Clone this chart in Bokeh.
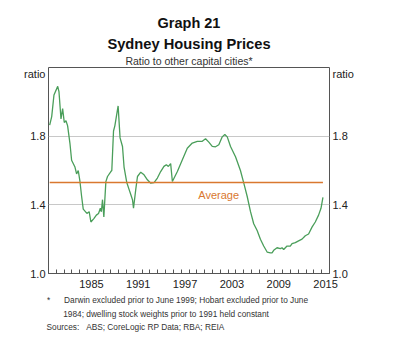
from bokeh.plotting import figure
from bokeh.models import FixedTicker, LinearAxis, Label, Range1d, Title
from bokeh.embed import file_html
from bokeh.resources import INLINE

# ---- data ----
years = [1980.15, 1980.41, 1980.70, 1981.18, 1981.34, 1981.60, 1981.81, 1982.02,
         1982.24, 1982.45, 1982.75, 1982.96, 1983.39, 1983.60, 1983.81, 1984.02,
         1984.24, 1984.45, 1984.92, 1985.21, 1985.43, 1985.81, 1986.13, 1986.41,
         1986.64, 1986.77, 1986.92, 1987.09, 1987.35, 1987.56, 1987.99, 1988.11,
         1988.33, 1988.50, 1988.92, 1989.17, 1989.48, 1989.68, 1990.03, 1990.32,
         1990.54, 1990.76, 1990.89, 1991.18, 1991.40, 1991.82, 1992.24, 1992.67,
         1993.10, 1993.52, 1993.95, 1994.37, 1994.79, 1995.10, 1995.36, 1995.65,
         1995.87, 1996.51, 1997.15, 1997.78, 1998.42, 1999.06, 1999.70, 2000.12,
         2000.54, 2000.98, 2001.40, 2001.82, 2002.26, 2002.59, 2002.90, 2003.32,
         2003.96, 2004.59, 2005.02, 2005.45, 2005.88, 2006.29, 2006.73, 2007.15,
         2007.57, 2008.01, 2008.43, 2008.64, 2008.85, 2009.28, 2009.70, 2009.92,
         2010.13, 2010.56, 2010.98, 2011.20, 2011.62, 2012.04, 2012.48, 2012.90,
         2013.32, 2013.76, 2014.18, 2014.60, 2014.91, 2015.16]
ratio = [1.864, 1.914, 2.04, 2.09, 2.06, 1.90, 1.96, 1.88,
         1.89, 1.86, 1.757, 1.66, 1.62, 1.58, 1.60, 1.54,
         1.45, 1.375, 1.35, 1.36, 1.30, 1.32, 1.34, 1.35,
         1.38, 1.36, 1.43, 1.33, 1.535, 1.565, 1.594, 1.60,
         1.83, 1.86, 1.976, 1.79, 1.74, 1.62, 1.53, 1.49,
         1.46, 1.43, 1.38, 1.49, 1.565, 1.59, 1.575, 1.546,
         1.526, 1.53, 1.556, 1.594, 1.624, 1.634, 1.624, 1.64,
         1.536, 1.594, 1.663, 1.73, 1.76, 1.77, 1.77, 1.785,
         1.765, 1.74, 1.738, 1.75, 1.796, 1.81, 1.796, 1.74,
         1.68, 1.60, 1.526, 1.45, 1.36, 1.29, 1.25, 1.20,
         1.16, 1.125, 1.12, 1.12, 1.135, 1.15, 1.145, 1.15,
         1.14, 1.16, 1.16, 1.174, 1.18, 1.19, 1.20, 1.22,
         1.23, 1.27, 1.30, 1.34, 1.38, 1.444]
average_value = 1.53
y_ticks = [1.0, 1.4, 1.8]
y_tick_labels = ["1.0", "1.4", "1.8"]
unit_label = "ratio"
x_label_years = [1985, 1991, 1997, 2003, 2009, 2015]

FONT = "Liberation Sans"
GREEN = "#4a9e5a"
ORANGE = "#d9782f"
FRAME = "#555555"
TXT = "#222222"
NB = "\u00a0"

p = figure(width=400, height=341, x_range=Range1d(1980, 2016), y_range=Range1d(1.0, 2.2),
           output_backend="svg", toolbar_location=None, title=None,
           min_border_left=48, min_border_right=71, min_border_top=67, min_border_bottom=68,
           x_axis_location=None, y_axis_location=None)
p.outline_line_color = FRAME
p.outline_line_width = 1
p.background_fill_color = "white"
p.border_fill_color = "white"

# grid
p.xgrid.visible = False
p.ygrid.ticker = FixedTicker(ticks=y_ticks)
p.ygrid.grid_line_color = "#c8c8c8"
p.ygrid.grid_line_width = 1

# bottom axis: year-boundary ticks, labels at mid-year
xt = FixedTicker(ticks=[y + 0.5 for y in x_label_years],
                 minor_ticks=list(range(1980, 2017)))
xaxis = LinearAxis(ticker=xt)
xaxis.major_label_overrides = {y + 0.5: str(y) for y in x_label_years}
xaxis.major_tick_in = 0
xaxis.major_tick_out = 0
xaxis.minor_tick_in = 4
xaxis.minor_tick_out = 0
xaxis.minor_tick_line_color = FRAME
xaxis.axis_line_color = FRAME
xaxis.major_label_standoff = 6
xaxis.major_label_text_font = FONT
xaxis.major_label_text_font_size = "11px"
xaxis.major_label_text_color = TXT
p.add_layout(xaxis, "below")

# unit label sits just under the top of the frame
unit_pos = 2.165
for side in ("left", "right"):
    ya = LinearAxis(ticker=FixedTicker(ticks=y_ticks + [unit_pos]))
    ov = dict(zip(y_ticks, y_tick_labels))
    ov[unit_pos] = unit_label
    ya.major_label_overrides = ov
    ya.major_tick_in = 0
    ya.major_tick_out = 0
    ya.minor_tick_line_color = None
    ya.axis_line_color = None
    ya.major_label_standoff = 3
    ya.major_label_text_font = FONT
    ya.major_label_text_font_size = "11px"
    ya.major_label_text_color = TXT
    p.add_layout(ya, side)

# series
p.line(years, ratio, line_color=GREEN, line_width=1.3)
p.line([years[0], years[-1]], [average_value, average_value], line_color=ORANGE, line_width=1.3)

p.add_layout(Label(x=2001.8, y=average_value, y_offset=-12.5, text="Average",
                   text_align="center", text_baseline="middle",
                   text_font=FONT, text_font_size="11px", text_color=ORANGE))

def title(text, where, size, bold=False, align="center", offset=0, standoff=0, color="#111111"):
    t = Title(text=text, align=align, offset=offset, standoff=standoff,
              text_font=FONT, text_font_size=size, text_color=color,
              text_font_style="bold" if bold else "normal")
    p.add_layout(t, where)

# titles (added from the frame outward)
title("Ratio to other capital cities*", "above", "10.5px", color="#333333", standoff=1)
title("Sydney Housing Prices", "above", "14.7px", bold=True, standoff=2)
title("Graph 21", "above", "14.5px", bold=True, standoff=3)

# footnotes
title("*" + NB * 6 + "Darwin excluded prior to June 1999; Hobart excluded prior to June",
      "below", "8.3px", align="left", offset=-1.5, color="#333333", standoff=5)
title("1984; dwelling stock weights prior to 1991 held constant",
      "below", "8.3px", align="left", offset=14.7, color="#333333", standoff=-1)
title("Sources:" + NB * 3 + "ABS; CoreLogic RP Data; RBA; REIA",
      "below", "8.3px", align="left", offset=-2, color="#333333", standoff=3)

open("out.html", "w").write(file_html(p, INLINE))
